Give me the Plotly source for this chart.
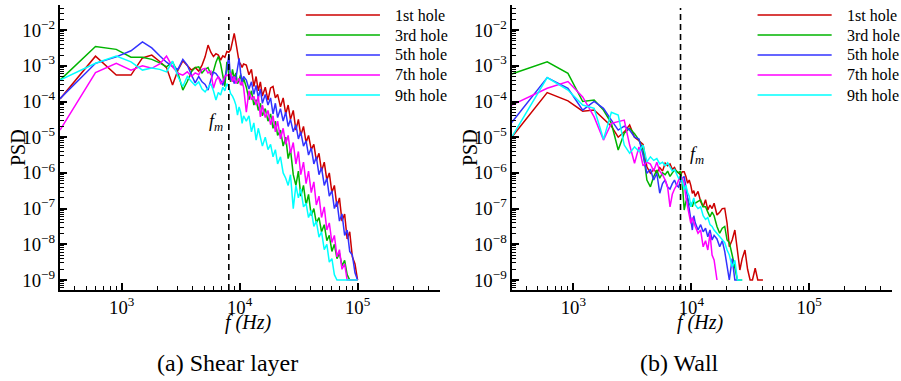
import math
import plotly.graph_objects as go

# ---------------- data (log10 of PSD) ----------------
FREQ_SHEAR = [300, 600, 900, 1200, 1500, 1800, 2100, 2400, 2700, 3000,
              3300, 3600, 3900, 4200, 4500, 4800, 5100, 5400, 5700, 6000,
              6300, 6600, 6900, 7200, 7500, 7800, 8100, 8400, 8700, 9000,
              9300, 9600, 9900, 10200, 10500, 10800, 11400, 12000, 12600, 13200,
              13800, 14400, 15000, 15600, 16500, 17400, 18300, 19200, 20100, 21000,
              22200, 23400, 24600, 25800, 27000, 28500, 30000, 31500, 33000, 34800,
              36600, 38400, 40500, 42600, 44700, 47100, 49500, 52200, 54900, 57600,
              60600, 63600, 66900, 70200, 73800, 77700, 81600, 85800, 90300, 95100,
              100000]

FREQ_WALL = [300, 600, 900, 1200, 1500, 1800, 2100, 2400, 2700, 3000,
             3300, 3600, 3900, 4200, 4500, 4800, 5100, 5400, 5700, 6000,
             6300, 6600, 6900, 7200, 7500, 7800, 8100, 8400, 8700, 9000,
             9300, 9600, 9900, 10200, 10500, 10800, 11400, 12000, 12600, 13200,
             13800, 14400, 15000, 15600, 16500, 17400, 18300, 19200, 20100, 21000,
             22200, 23400, 24600, 25800, 27000, 28500, 30000, 31500, 33000, 34800,
             36600, 38400, 40500]

shear_1st = [-3.93, -2.73, -3.26, -3.26, -2.78, -2.70, -2.88, -3.05, -3.54, -3.12,
             -2.86, -3.00, -3.12, -3.05, -3.15, -2.98, -2.75, -2.42, -2.62, -2.74,
             -2.66, -2.70, -2.84, -2.72, -2.76, -2.60, -2.62, -2.55, -2.30, -2.09,
             -2.35, -2.60, -2.89, -2.95, -3.05, -2.95, -2.98, -3.25, -3.10, -3.58,
             -3.30, -3.70, -3.45, -3.85, -3.60, -3.96, -3.62, -3.58, -3.90, -3.80,
             -4.15, -3.90, -4.35, -4.10, -4.50, -4.25, -4.80, -4.50, -4.95, -4.70,
             -5.15, -4.95, -5.35, -5.20, -5.65, -5.45, -5.95, -5.70, -6.20, -6.00,
             -6.55, -6.35, -6.95, -6.70, -7.35, -7.15, -7.85, -7.65, -8.35, -8.55,
             -9.00]

shear_3rd = [-3.40, -2.46, -2.54, -2.76, -2.76, -2.82, -2.92, -3.03, -2.89, -3.20,
             -3.68, -3.44, -3.17, -3.05, -3.03, -3.20, -3.10, -3.05, -3.25, -3.15,
             -2.90, -2.74, -2.95, -3.30, -3.58, -2.89, -3.25, -3.45, -3.10, -3.35,
             -3.20, -3.50, -3.40, -3.25, -3.55, -3.35, -3.60, -3.95, -3.70, -4.10,
             -3.95, -4.25, -4.05, -4.40, -4.20, -4.55, -4.35, -4.75, -4.55, -4.95,
             -4.80, -5.25, -5.00, -5.60, -5.35, -6.05, -6.35, -5.95, -6.65, -6.35,
             -6.90, -6.60, -7.20, -7.00, -7.40, -7.25, -7.65, -7.45, -7.90, -7.75,
             -8.20, -8.00, -8.40, -8.25, -8.60, -8.45, -8.85, -9.00, -9.00, -9.00,
             -9.00]

shear_5th = [-3.92, -2.93, -2.75, -2.58, -2.33, -2.50, -2.72, -2.90, -3.02, -3.10,
             -2.82, -2.98, -3.25, -3.48, -3.30, -3.45, -3.52, -3.68, -3.40, -3.18,
             -3.22, -3.30, -3.40, -3.55, -3.35, -3.10, -2.70, -3.40, -3.30, -3.50,
             -3.35, -3.05, -2.79, -3.20, -3.45, -3.30, -3.40, -3.65, -3.45, -3.80,
             -3.55, -3.90, -3.65, -4.05, -3.80, -4.10, -3.90, -4.35, -4.05, -4.45,
             -4.20, -4.55, -4.30, -4.70, -4.50, -4.85, -4.65, -5.05, -4.85, -5.25,
             -5.10, -5.50, -5.30, -5.75, -5.55, -6.05, -5.85, -6.35, -6.15, -6.65,
             -6.50, -7.00, -6.80, -7.35, -7.15, -7.75, -7.60, -8.20, -8.30, -8.80,
             -9.00]

shear_7th = [-4.80, -3.19, -2.93, -3.12, -3.00, -3.07, -2.95, -2.73, -3.03, -3.21,
             -3.26, -3.17, -3.30, -3.20, -3.25, -3.10, -3.07, -3.20, -3.15, -3.63,
             -3.40, -3.30, -3.50, -3.44, -3.30, -3.25, -3.30, -3.20, -3.45, -3.30,
             -3.50, -3.40, -3.35, -3.54, -3.45, -3.60, -4.30, -3.70, -3.95, -3.85,
             -4.10, -3.85, -4.43, -4.10, -4.45, -4.25, -4.65, -4.40, -4.85, -4.55,
             -5.05, -4.75, -5.20, -4.95, -5.45, -5.15, -5.75, -5.40, -6.05, -5.70,
             -6.30, -5.95, -6.55, -6.25, -6.90, -6.65, -7.25, -6.95, -7.60, -7.40,
             -7.95, -7.75, -8.35, -8.15, -8.70, -8.55, -9.00, -9.00, -9.00, -9.00,
             -9.00]

shear_9th = [-3.40, -2.93, -2.73, -2.89, -3.12, -3.06, -3.10, -3.17, -2.87, -3.30,
             -3.58, -3.30, -3.44, -3.55, -3.45, -3.65, -3.73, -3.60, -3.50, -3.70,
             -3.96, -3.75, -3.82, -3.60, -3.70, -3.50, -3.60, -3.78, -3.85, -3.96,
             -4.10, -4.38, -4.15, -4.30, -4.61, -4.40, -4.55, -4.40, -4.85, -4.60,
             -5.08, -4.75, -5.00, -5.25, -5.00, -5.35, -5.20, -5.55, -5.35, -5.75,
             -5.55, -6.00, -6.15, -6.35, -6.05, -7.00, -6.35, -6.70, -6.45, -6.95,
             -6.85, -7.25, -7.05, -7.50, -7.35, -7.80, -7.65, -8.15, -8.00, -8.50,
             -8.40, -8.85, -9.00, -9.00, -9.00, -9.00, -9.00, -9.00, -9.00, -9.00,
             -9.00]

wall_1st = [-5.00, -3.75, -3.98, -4.27, -4.24, -4.47, -4.69, -5.00, -4.85, -4.66,
            -5.00, -5.10, -5.20, -5.83, -6.01, -5.90, -6.00, -5.85, -5.95, -5.73,
            -5.80, -5.75, -5.90, -5.85, -5.97, -6.00, -6.05, -5.97, -5.97, -6.10,
            -6.29, -6.20, -6.35, -6.57, -6.50, -6.66, -6.52, -6.80, -6.95, -6.75,
            -7.04, -6.90, -7.00, -6.85, -7.18, -7.10, -7.00, -6.99, -7.41, -8.07,
            -7.88, -7.60, -8.16, -8.72, -8.40, -8.16, -8.70, -9.00, -9.00, -8.67,
            -9.00, -9.00, -9.00]

wall_3rd = [-3.23, -2.89, -3.21, -4.00, -3.96, -4.24, -4.61, -5.36, -4.89, -4.75,
            -4.90, -5.08, -5.36, -6.20, -6.39, -6.10, -5.92, -6.15, -6.00, -6.05,
            -5.95, -6.10, -6.00, -5.92, -5.95, -6.00, -5.95, -6.30, -7.04, -6.80,
            -6.70, -6.90, -6.85, -6.95, -6.80, -6.85, -6.80, -6.76, -6.95, -6.95,
            -7.10, -7.23, -7.10, -7.20, -7.50, -7.69, -7.55, -7.50, -7.88, -7.95,
            -8.30, -8.63, -9.00, -9.00, -9.00]

wall_5th = [-4.59, -3.33, -3.63, -4.24, -4.00, -4.19, -4.52, -4.80, -4.69, -4.80,
            -5.00, -5.05, -5.50, -6.01, -5.90, -6.20, -6.01, -6.57, -6.30, -6.20,
            -6.40, -6.45, -6.30, -6.20, -6.35, -6.40, -6.20, -6.15, -6.10, -6.40,
            -6.76, -7.00, -7.30, -7.60, -7.20, -7.40, -7.60, -7.45, -7.65, -7.55,
            -7.79, -7.60, -7.88, -7.75, -7.85, -8.07, -7.90, -8.20, -8.63, -9.00,
            -8.40, -9.00, -9.00]

wall_7th = [-4.10, -3.63, -3.44, -3.87, -4.43, -5.08, -4.61, -4.57, -4.52, -5.22,
            -5.73, -5.27, -5.80, -5.70, -5.75, -5.95, -5.70, -5.95, -6.05, -6.20,
            -6.40, -6.95, -6.60, -6.45, -6.35, -6.20, -6.10, -6.15, -6.30, -6.70,
            -6.95, -7.20, -7.41, -7.25, -7.35, -7.50, -7.69, -7.60, -8.07, -7.90,
            -8.16, -7.70, -8.30, -8.44, -9.00]

wall_9th = [-5.00, -3.33, -3.68, -4.10, -4.19, -5.06, -4.30, -4.38, -5.22, -5.45,
            -5.27, -5.40, -5.22, -5.69, -5.55, -5.65, -5.60, -5.75, -5.70, -5.80,
            -5.72, -5.85, -5.95, -5.90, -6.05, -6.15, -6.10, -6.25, -6.47, -6.35,
            -6.55, -6.65, -6.95, -6.80, -6.70, -6.90, -7.00, -6.95, -7.20, -7.30,
            -7.25, -7.45, -7.50, -7.60, -7.70, -7.80, -7.88, -7.95, -8.16, -8.30,
            -8.63, -8.45, -9.00, -9.00, -9.00]

SERIES_NAMES = ["1st hole", "3rd hole", "5th hole", "7th hole", "9th hole"]
COLORS = ["#cc0000", "#00b400", "#3232ff", "#ff00ff", "#00ffff"]
FM_HZ = 8100
PANEL_TITLES = ["(a) Shear layer", "(b) Wall"]

# ---------------- figure ----------------
W, H = 901, 381
FONT = "Liberation Serif, Times New Roman, serif"
X_RANGE = [math.log10(300), math.log10(500000)]
Y_RANGE = [-9.28, -1.297]

fig = go.Figure()

panels = [
    ("x", "y", FREQ_SHEAR, [shear_1st, shear_3rd, shear_5th, shear_7th, shear_9th], -1.63),
    ("x2", "y2", FREQ_WALL, [wall_1st, wall_3rd, wall_5th, wall_7th, wall_9th], -1.38),
]

for xa, ya, freqs, series, fm_top in panels:
    for name, color, vals in zip(SERIES_NAMES, COLORS, series):
        fig.add_trace(go.Scatter(
            x=freqs[:len(vals)], y=[10 ** v for v in vals],
            mode="lines", name=name, line=dict(color=color, width=1.5),
            xaxis=xa, yaxis=ya, showlegend=False))
    fig.add_trace(go.Scatter(
        x=[FM_HZ, FM_HZ], y=[10 ** Y_RANGE[0], 10 ** fm_top],
        mode="lines", line=dict(color="black", width=1.6, dash="6px,4px"),
        xaxis=xa, yaxis=ya, showlegend=False, hoverinfo="skip"))

axis_common = dict(
    type="log", showline=True, linecolor="black", linewidth=2, mirror=False,
    ticks="inside", ticklen=7, tickwidth=1.5, tickcolor="black",
    dtick=1, exponentformat="power", showexponent="all",
    showgrid=False, zeroline=False,
    tickfont=dict(family=FONT, size=15, color="black"),
    minor=dict(ticks="inside", ticklen=4, tickwidth=1, tickcolor="black",
               dtick="D1", showgrid=False),
)

LEFT_DOM = [60 / W, 440 / W]
RIGHT_DOM = [511.7 / W, 891.7 / W]
Y_DOM = [1 - 290 / H, 1 - 5 / H]

fig.update_layout(
    width=W, height=H,
    margin=dict(l=0, r=0, t=0, b=0),
    paper_bgcolor="white", plot_bgcolor="white",
    showlegend=False,
    font=dict(family=FONT, color="black"),
    xaxis=dict(domain=LEFT_DOM, range=X_RANGE, anchor="y", **axis_common),
    yaxis=dict(domain=Y_DOM, range=Y_RANGE, anchor="x", **axis_common),
    xaxis2=dict(domain=RIGHT_DOM, range=X_RANGE, anchor="y2", **axis_common),
    yaxis2=dict(domain=Y_DOM, range=Y_RANGE, anchor="x2", **axis_common),
)

shapes = []
annotations = []
LEG_Y = [0.9649, 0.8947, 0.8246, 0.7544, 0.6842]
for xref, yref in [("x domain", "y domain"), ("x2 domain", "y2 domain")]:
    for name, color, ly in zip(SERIES_NAMES, COLORS, LEG_Y):
        shapes.append(dict(type="line", xref=xref, yref=yref,
                           x0=0.647, x1=0.842, y0=ly, y1=ly,
                           line=dict(color=color, width=1.5)))
        annotations.append(dict(xref=xref, yref=yref, x=0.876, y=ly,
                                text=name, showarrow=False,
                                xanchor="left", yanchor="middle",
                                font=dict(family=FONT, size=16, color="black")))

# axis titles, f_m labels and captions
for cx, px_psd, fmx, fmy in [(248, 18, 216, 122), (700, 470, 697, 156)]:
    annotations.append(dict(xref="paper", yref="paper", x=px_psd / W, y=1 - 148 / H,
                            text="PSD", textangle=-90, showarrow=False,
                            xanchor="center", yanchor="middle",
                            font=dict(family=FONT, size=20, color="black")))
    annotations.append(dict(xref="paper", yref="paper", x=cx / W, y=1 - 322 / H,
                            text="<i>f (Hz)</i>", showarrow=False,
                            xanchor="center", yanchor="middle",
                            font=dict(family=FONT, size=20, color="black")))
    annotations.append(dict(xref="paper", yref="paper", x=fmx / W, y=1 - fmy / H,
                            text="<i>f<sub>m</sub></i>", showarrow=False,
                            xanchor="center", yanchor="middle",
                            font=dict(family=FONT, size=18, color="black")))
for cx, title in [(228, PANEL_TITLES[0]), (679.5, PANEL_TITLES[1])]:
    annotations.append(dict(xref="paper", yref="paper", x=cx / W, y=1 - 363 / H,
                            text=title, showarrow=False,
                            xanchor="center", yanchor="middle",
                            font=dict(family=FONT, size=24, color="black")))

fig.update_layout(shapes=shapes, annotations=annotations)

fig.write_html("out.html", config={"displayModeBar": False},
               post_script="document.body.style.margin='0px';")
